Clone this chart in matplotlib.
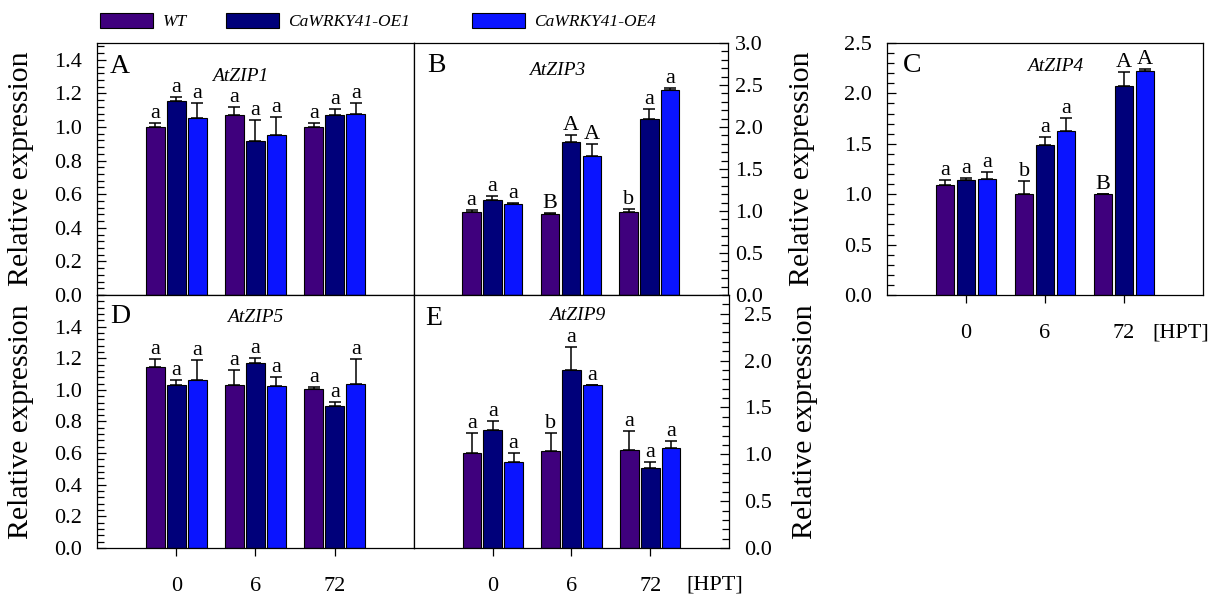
import matplotlib
matplotlib.use("Agg")
import matplotlib.pyplot as plt
import numpy as np
from matplotlib.ticker import MultipleLocator, FormatStrFormatter

plt.rcParams["font.family"] = ["Liberation Serif", "DejaVu Serif"]
plt.rcParams["axes.linewidth"] = 0.9

hpt = ["0", "6", "72"]
genotypes = ["WT", "CaWRKY41-OE1", "CaWRKY41-OE4"]
bar_colors = ["#3f007d", "#00007a", "#0a14ff"]

# rows: WT, OE1, OE4 ; columns: 0, 6, 72 HPT
zip1_mean = [[1.00, 1.072, 1.00], [1.155, 0.915, 1.074], [1.054, 0.95, 1.076]]
zip1_sd = [[0.025, 0.045, 0.025], [0.022, 0.125, 0.032], [0.09, 0.11, 0.067]]
zip1_sig = [["a", "a", "a"], ["a", "a", "a"], ["a", "a", "a"]]

zip3_mean = [[0.99, 0.97, 0.99], [1.127, 1.82, 2.10], [1.08, 1.65, 2.44]]
zip3_sd = [[0.025, 0.01, 0.03], [0.05, 0.08, 0.11], [0.01, 0.145, 0.03]]
zip3_sig = [["a", "B", "b"], ["a", "A", "a"], ["a", "A", "a"]]

zip4_mean = [[1.088, 1.003, 1.0], [1.142, 1.49, 2.07], [1.155, 1.622, 2.227]]
zip4_sd = [[0.055, 0.125, 0.005], [0.015, 0.075, 0.14], [0.065, 0.135, 0.015]]
zip4_sig = [["a", "b", "B"], ["a", "a", "A"], ["a", "a", "A"]]

zip5_mean = [[1.143, 1.029, 1.004], [1.029, 1.170, 0.901], [1.061, 1.023, 1.038]]
zip5_sd = [[0.052, 0.095, 0.013], [0.032, 0.03, 0.025], [0.126, 0.059, 0.157]]
zip5_sig = [["a", "a", "a"], ["a", "a", "a"], ["a", "a", "a"]]

zip9_mean = [[1.017, 1.031, 1.049], [1.262, 1.903, 0.853], [0.917, 1.742, 1.063]]
zip9_sd = [[0.21, 0.2, 0.2], [0.093, 0.238, 0.061], [0.10, 0.0, 0.079]]
zip9_sig = [["a", "b", "a"], ["a", "a", "a"], ["a", "a", "a"]]


def draw_panel(rect, mean, sd, sig, gene, letter, ylim, top_tick, major, minor,
               side="left", xlabels=False, ylabel_x=None, ypad=11, hpt_pos=None,
               letter_pos=(0.041, 0.885), gene_pos=(0.45, 0.87)):
    ax = fig.add_axes(rect)
    x = np.arange(1, len(hpt) + 1)
    offsets = [-0.265, 0.0, 0.265]
    bars = []
    for i in range(len(genotypes)):
        b = ax.bar(x + offsets[i], mean[i], 0.235, color=bar_colors[i],
                   edgecolor="black", linewidth=0.8, label=genotypes[i], zorder=2)
        bars.append(b)
        ax.errorbar(x + offsets[i], mean[i], yerr=[np.zeros(len(hpt)), sd[i]],
                    fmt="none", ecolor="black", elinewidth=1.1, capsize=4.5,
                    capthick=1.1, zorder=3)
        for j in range(len(hpt)):
            ax.annotate(sig[i][j], (x[j] + offsets[i], mean[i][j] + sd[i][j]),
                        xytext=(0, 0), textcoords="offset points",
                        ha="center", va="bottom", fontsize=16)
    ax.set_xlim(0, 4)
    ax.set_ylim(*ylim)
    ax.set_yticks(np.arange(0, top_tick + 1e-9, major))
    ax.yaxis.set_major_formatter(FormatStrFormatter("%.1f"))
    ax.yaxis.set_minor_locator(MultipleLocator(minor))
    on_left = side == "left"
    ax.tick_params(axis="y", which="both", direction="in", left=on_left,
                   right=not on_left, labelleft=on_left, labelright=not on_left,
                   labelsize=16, pad=ypad, width=0.9)
    ax.tick_params(axis="y", which="major", length=6.7)
    ax.tick_params(axis="y", which="minor", length=5.0)
    if xlabels:
        ax.set_xticks(x)
        ax.set_xticklabels(hpt)
        ax.tick_params(axis="x", direction="out", length=6, width=0.9,
                       labelsize=16, pad=15)
    else:
        ax.set_xticks([])
    if ylabel_x is not None:
        if not on_left:
            ax.yaxis.set_label_position("right")
        ax.set_ylabel("Relative expression", fontsize=21.5)
        ax.yaxis.set_label_coords(ylabel_x, 0.5)
    if hpt_pos is not None:
        ax.text(hpt_pos[0], hpt_pos[1], "[HPT]", transform=ax.transAxes,
                ha="center", va="center", fontsize=16)
    ax.text(letter_pos[0], letter_pos[1], letter, transform=ax.transAxes,
            ha="left", va="baseline", fontsize=20)
    ax.text(gene_pos[0], gene_pos[1], gene, transform=ax.transAxes,
            ha="center", va="baseline", fontsize=14, style="italic")
    return ax, bars


fig = plt.figure(figsize=(12.24, 6.03), dpi=100)

ax_a, handles = draw_panel([0.0792, 0.5108, 0.259, 0.4179], zip1_mean, zip1_sd, zip1_sig,
                           "AtZIP1", "A", (0, 1.5), 1.4, 0.2, 0.04, ylabel_x=-0.20,
                           letter_pos=(0.041, 0.881), gene_pos=(0.451, 0.849))
draw_panel([0.3382, 0.5108, 0.2565, 0.4179], zip3_mean, zip3_sd, zip3_sig,
           "AtZIP3", "B", (0, 3.0), 3.0, 0.5, 0.1, side="right", ypad=5,
           letter_pos=(0.041, 0.885), gene_pos=(0.455, 0.873))
draw_panel([0.7247, 0.5108, 0.2582, 0.4179], zip4_mean, zip4_sd, zip4_sig,
           "AtZIP4", "C", (0, 2.5), 2.5, 0.5, 0.1, xlabels=True, ylabel_x=-0.228,
           hpt_pos=(0.93, -0.149), letter_pos=(0.05, 0.885), gene_pos=(0.532, 0.889))
draw_panel([0.0792, 0.0912, 0.259, 0.4196], zip5_mean, zip5_sd, zip5_sig,
           "AtZIP5", "D", (0, 1.6), 1.4, 0.2, 0.04, xlabels=True, ylabel_x=-0.20,
           letter_pos=(0.041, 0.889), gene_pos=(0.498, 0.895))
draw_panel([0.3382, 0.0912, 0.2574, 0.4196], zip9_mean, zip9_sd, zip9_sig,
           "AtZIP9", "E", (0, 2.7), 2.5, 0.5, 0.1, side="right", xlabels=True,
           ylabel_x=1.20, hpt_pos=(0.955, -0.146),
           letter_pos=(0.035, 0.881), gene_pos=(0.517, 0.901))

legend_x = [0.0817, 0.1846, 0.3856]
for h, lx in zip(handles, legend_x):
    fig.legend(handles=[h], loc="center left", bbox_to_anchor=(lx, 0.964),
               frameon=False, borderpad=0, borderaxespad=0, handlelength=3.05,
               handleheight=0.95, handletextpad=0.55,
               prop={"style": "italic", "size": 12.5})

fig.savefig("out.png", dpi=100)
